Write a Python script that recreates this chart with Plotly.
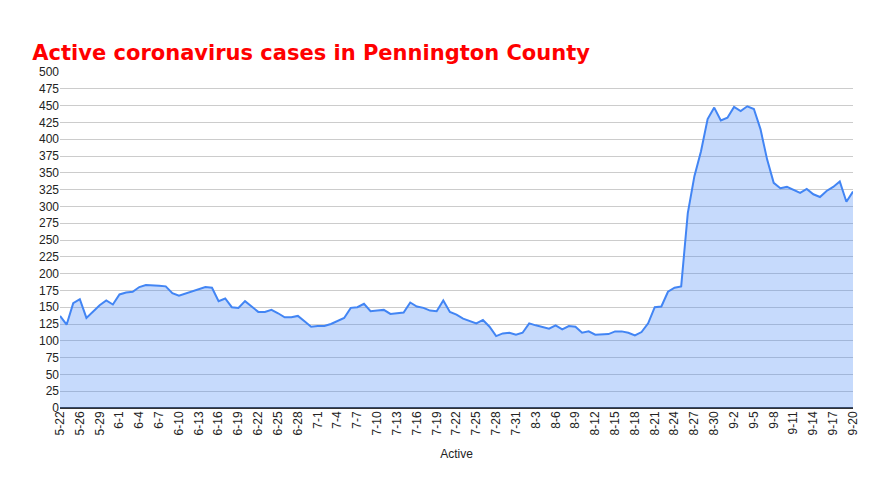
import plotly.graph_objects as go
import pandas as pd

active = [137,124,156,162,134,143,153,160,154,169,172,173,180,183,183,182,181,171,167,170,
          173,177,180,179,159,163,150,149,159,151,143,143,146,141,135,135,137,129,121,122,
          122,125,130,134,149,150,155,144,145,146,140,141,142,157,151,149,145,144,160,
          143,139,133,130,126,131,121,107,111,112,109,112,126,123,120,118,123,117,122,121,
          112,114,109,109,110,114,114,112,108,113,126,150,151,173,179,181,290,345,382,430,
          447,428,432,448,442,449,445,415,370,335,327,329,325,320,326,318,314,323,329,337,
          307,322]
date_index = pd.date_range(end="2020-09-20", periods=len(active) - 1)
dates = ["5-22"] + [f"{d.month}-{d.day}" for d in date_index]
tick_labels = ["5-22"] + dates[::-3][::-1][1:] if dates[::-3][-1] == "5-22" else ["5-22"] + dates[::-3][::-1]

fig = go.Figure(go.Scatter(x=dates, y=active, mode="lines", fill="tozeroy",
                           line=dict(color="#4285f4", width=2), fillcolor="rgba(66,133,244,0.3)"))
fig.update_layout(
    width=870, height=496, paper_bgcolor="white", plot_bgcolor="white",
    margin=dict(l=52, r=25, t=64, b=96),
    title=dict(text="<b>Active coronavirus cases in Pennington County</b>", x=0.028, y=0.925,
               xanchor="left", font=dict(family="DejaVu Sans", size=21, color="#ff0000")),
    showlegend=False, font=dict(family="Liberation Sans", size=12, color="#222"),
)
fig.update_xaxes(type="category", tickmode="array", tickvals=tick_labels, ticktext=tick_labels,
                 tickangle=-90, showgrid=False, range=[0, len(active)-1],
                 title=dict(text="Active", font=dict(size=12)), ticks="", showline=False)
fig.update_yaxes(range=[0, 500], dtick=25, gridcolor="#cccccc", zeroline=True,
                 zerolinecolor="#333", ticks="", tickfont=dict(size=12))
fig.write_html("out.html")
